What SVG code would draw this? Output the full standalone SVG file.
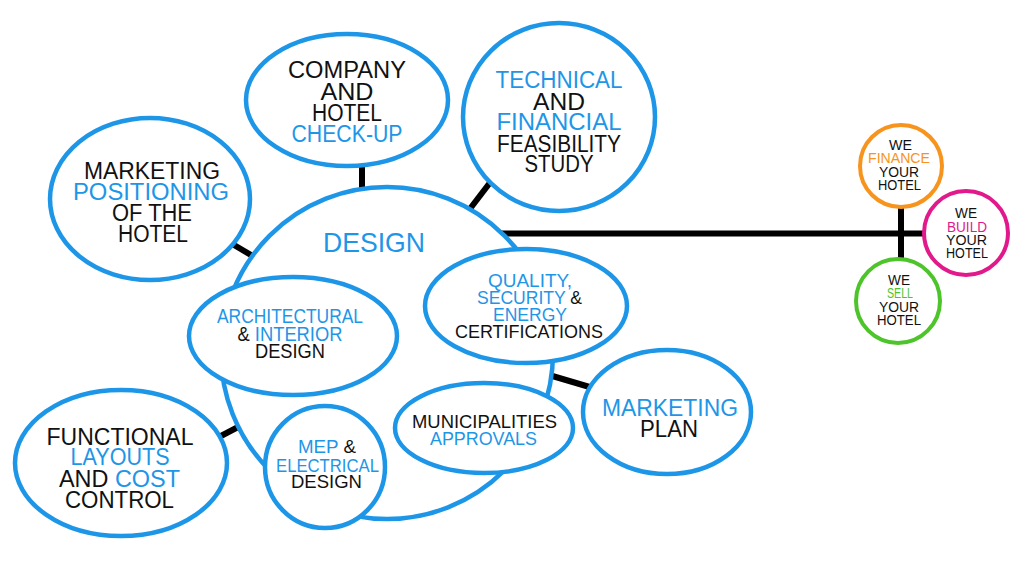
<svg xmlns="http://www.w3.org/2000/svg" width="1026" height="577" viewBox="0 0 1026 577">
<style>
text{font-family:"Liberation Sans",Arial,sans-serif;text-anchor:middle;fill:#111;}
.b{fill:#1E96E8;}
.k{fill:#111;}
.o{fill:#F7941E;}
.m{fill:#E2198B;}
.g{fill:#4CC42A;}
.node{fill:#fff;stroke:#1E96E8;stroke-width:4.5;}
.con{stroke:#000;stroke-width:6;fill:none;}
.f24{font-size:23px;}
.f20{font-size:20px;}
.f19{font-size:19px;}
.f18{font-size:18px;}
.f14{font-size:14px;}
</style>
<rect width="1026" height="577" fill="#fff"/>
<g id="connectors">
<line class="con" x1="362" y1="165" x2="362" y2="195"/>
<line class="con" x1="492" y1="180" x2="466" y2="214"/>
<line class="con" x1="229" y1="242" x2="256" y2="258"/>
<line class="con" x1="219" y1="437" x2="240" y2="426"/>
<line class="con" x1="549" y1="375" x2="593" y2="388"/>
<line class="con" x1="495" y1="233.5" x2="926" y2="233.5" stroke-width="6.5"/>
<line class="con" x1="901" y1="205" x2="901" y2="262" stroke-width="7"/>
</g>
<g id="design">
<circle class="node" cx="387" cy="353" r="166"/>
<text class="b" x="374" y="252" font-size="28" textLength="102" lengthAdjust="spacingAndGlyphs">DESIGN</text>
</g>
<g id="company">
<ellipse class="node" cx="347" cy="100" rx="101" ry="66"/>
<text class="f24" x="347" y="78" textLength="118" lengthAdjust="spacingAndGlyphs">COMPANY</text>
<text class="f24" x="347" y="100" textLength="53" lengthAdjust="spacingAndGlyphs">AND</text>
<text class="f24" x="347" y="121" textLength="70" lengthAdjust="spacingAndGlyphs">HOTEL</text>
<text class="f24 b" x="347" y="142" textLength="111" lengthAdjust="spacingAndGlyphs">CHECK-UP</text>
</g>
<g id="technical">
<ellipse class="node" cx="559" cy="117" rx="96" ry="94"/>
<text class="f24 b" x="559" y="88" textLength="127" lengthAdjust="spacingAndGlyphs">TECHNICAL</text>
<text class="f24" x="559" y="110" textLength="52" lengthAdjust="spacingAndGlyphs">AND</text>
<text class="f24 b" x="559" y="130" textLength="125" lengthAdjust="spacingAndGlyphs">FINANCIAL</text>
<text class="f24" x="559" y="152" textLength="124" lengthAdjust="spacingAndGlyphs">FEASIBILITY</text>
<text class="f24" x="559" y="172" textLength="69" lengthAdjust="spacingAndGlyphs">STUDY</text>
</g>
<g id="marketing-positioning">
<ellipse class="node" cx="150" cy="199" rx="100" ry="81"/>
<text class="f24" x="152" y="179" textLength="136" lengthAdjust="spacingAndGlyphs">MARKETING</text>
<text class="f24 b" x="151" y="200" textLength="156" lengthAdjust="spacingAndGlyphs">POSITIONING</text>
<text class="f24" x="152" y="221" textLength="80" lengthAdjust="spacingAndGlyphs">OF THE</text>
<text class="f24" x="153" y="242" textLength="70" lengthAdjust="spacingAndGlyphs">HOTEL</text>
</g>
<g id="functional">
<ellipse class="node" cx="121" cy="463" rx="106" ry="73"/>
<text class="f24" x="120" y="445" textLength="147" lengthAdjust="spacingAndGlyphs">FUNCTIONAL</text>
<text class="f24 b" x="120" y="465" textLength="99" lengthAdjust="spacingAndGlyphs">LAYOUTS</text>
<text class="f24" x="119.5" y="487" textLength="121" lengthAdjust="spacingAndGlyphs"><tspan class="k">AND</tspan> <tspan class="b">COST</tspan></text>
<text class="f24" x="119.5" y="508" textLength="109" lengthAdjust="spacingAndGlyphs">CONTROL</text>
</g>
<g id="architectural">
<ellipse class="node" cx="293" cy="336" rx="104" ry="59"/>
<text class="f20 b" x="290" y="323" textLength="146" lengthAdjust="spacingAndGlyphs">ARCHITECTURAL</text>
<text class="f20" x="290" y="341" textLength="105" lengthAdjust="spacingAndGlyphs"><tspan class="k">&amp;</tspan> <tspan class="b">INTERIOR</tspan></text>
<text class="f20" x="290" y="358" textLength="70" lengthAdjust="spacingAndGlyphs">DESIGN</text>
</g>
<g id="quality">
<ellipse class="node" cx="526" cy="306" rx="101" ry="57"/>
<text class="f19 b" x="530" y="287" textLength="84" lengthAdjust="spacingAndGlyphs">QUALITY,</text>
<text class="f19" x="529.5" y="304" textLength="105" lengthAdjust="spacingAndGlyphs"><tspan class="b">SECURITY</tspan> <tspan class="k">&amp;</tspan></text>
<text class="f19 b" x="530" y="321" textLength="74" lengthAdjust="spacingAndGlyphs">ENERGY</text>
<text class="f19" x="529" y="338" textLength="148" lengthAdjust="spacingAndGlyphs">CERTIFICATIONS</text>
</g>
<g id="mep">
<ellipse class="node" cx="325" cy="467" rx="60" ry="61"/>
<text class="f18" x="327" y="453" textLength="58" lengthAdjust="spacingAndGlyphs"><tspan class="b">MEP</tspan> <tspan class="k">&amp;</tspan></text>
<text class="f18 b" x="327.5" y="472" textLength="103" lengthAdjust="spacingAndGlyphs">ELECTRICAL</text>
<text class="f18" x="326.5" y="488" textLength="71" lengthAdjust="spacingAndGlyphs">DESIGN</text>
</g>
<g id="municipalities">
<ellipse class="node" cx="484" cy="428" rx="89" ry="45"/>
<text class="f19" x="484.5" y="428" textLength="145" lengthAdjust="spacingAndGlyphs">MUNICIPALITIES</text>
<text class="f19 b" x="483.5" y="445" textLength="107" lengthAdjust="spacingAndGlyphs">APPROVALS</text>
</g>
<g id="marketing-plan">
<ellipse class="node" cx="667" cy="412" rx="84" ry="62"/>
<text class="f24 b" x="670" y="416" textLength="136" lengthAdjust="spacingAndGlyphs">MARKETING</text>
<text class="f24" x="669" y="437" textLength="58" lengthAdjust="spacingAndGlyphs">PLAN</text>
</g>
<g id="finance">
<circle cx="901" cy="166" r="41" fill="#fff" stroke="#F7941E" stroke-width="4"/>
<text class="f14" x="900.5" y="150" textLength="23" lengthAdjust="spacingAndGlyphs">WE</text>
<text class="f14 o" x="899" y="163" textLength="62" lengthAdjust="spacingAndGlyphs">FINANCE</text>
<text class="f14" x="899" y="177" textLength="40" lengthAdjust="spacingAndGlyphs">YOUR</text>
<text class="f14" x="899.5" y="190" textLength="43" lengthAdjust="spacingAndGlyphs">HOTEL</text>
</g>
<g id="build">
<circle cx="966" cy="233" r="42" fill="#fff" stroke="#E2198B" stroke-width="4"/>
<text class="f14" x="966" y="218" textLength="22" lengthAdjust="spacingAndGlyphs">WE</text>
<text class="f14 m" x="967" y="232" textLength="40" lengthAdjust="spacingAndGlyphs">BUILD</text>
<text class="f14" x="966.5" y="245" textLength="41" lengthAdjust="spacingAndGlyphs">YOUR</text>
<text class="f14" x="967" y="258" textLength="42" lengthAdjust="spacingAndGlyphs">HOTEL</text>
</g>
<g id="sell">
<circle cx="898" cy="301" r="42" fill="#fff" stroke="#4CC42A" stroke-width="4"/>
<text class="f14" x="899" y="285" textLength="22" lengthAdjust="spacingAndGlyphs">WE</text>
<text class="f14 g" x="900" y="298" textLength="26" lengthAdjust="spacingAndGlyphs">SELL</text>
<text class="f14" x="899" y="312" textLength="40" lengthAdjust="spacingAndGlyphs">YOUR</text>
<text class="f14" x="899" y="325" textLength="44" lengthAdjust="spacingAndGlyphs">HOTEL</text>
</g>
</svg>
